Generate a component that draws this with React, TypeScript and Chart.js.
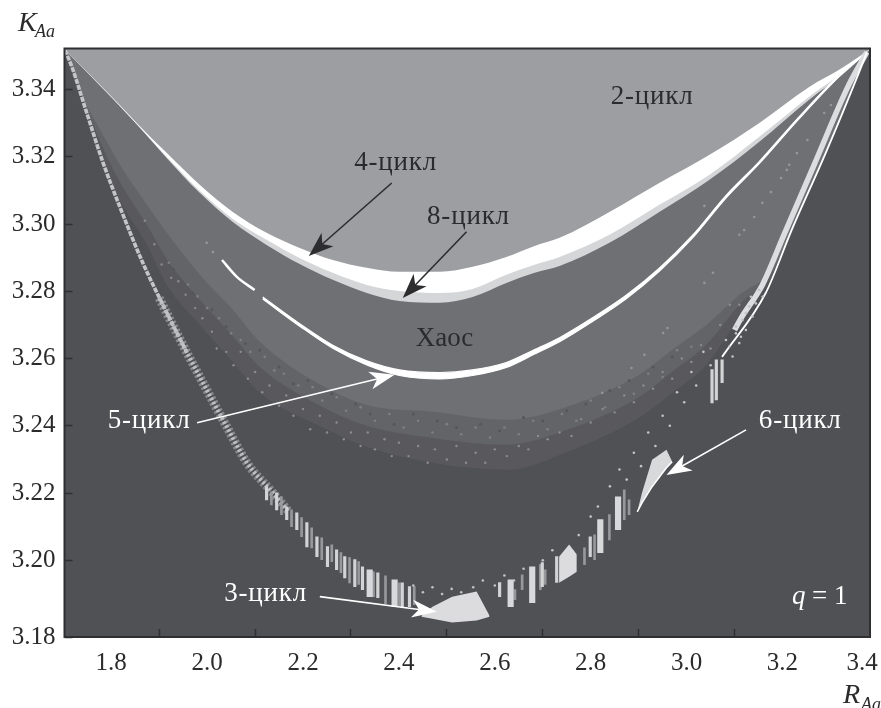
import React, { useEffect, useRef } from "react";
import { Chart, registerables } from "chart.js";

Chart.register(...registerables);

const X_MIN = 1.7025;
const X_MAX = 3.3825;
const Y_MIN = 3.1772;
const Y_MAX = 3.3522;
const X_TICKS = [1.8, 2.0, 2.2, 2.4, 2.6, 2.8, 3.0, 3.2, 3.366];
const X_TICK_LABELS = ["1.8", "2.0", "2.2", "2.4", "2.6", "2.8", "3.0", "3.2", "3.4"];
const Y_TICKS = [3.34, 3.32, 3.3, 3.28, 3.26, 3.24, 3.22, 3.2, Y_MIN];
const Y_TICK_LABELS = ["3.34", "3.32", "3.30", "3.28", "3.26", "3.24", "3.22", "3.20", "3.18"];

// Period-doubling boundaries
const bandX = [1.7025, 1.8035, 1.8535, 1.916, 1.985, 2.0535, 2.124, 2.193, 2.262, 2.333, 2.401, 2.485, 2.5535, 2.624, 2.683, 2.735, 2.839, 2.943, 3.047, 3.151, 3.255, 3.324, 3.3825];
const cycle2Edge = [3.352, 3.3375, 3.33, 3.3211, 3.3116, 3.3036, 3.2974, 3.2929, 3.2893, 3.287, 3.2858, 3.2858, 3.2873, 3.2902, 3.2935, 3.2959, 3.3036, 3.3122, 3.3205, 3.33, 3.3407, 3.3464, 3.352];
const cycle4Edge = [3.352, 3.3373, 3.3297, 3.3199, 3.3098, 3.3015, 3.2953, 3.2899, 3.2855, 3.2819, 3.2801, 3.2795, 3.2807, 3.2849, 3.2879, 3.2902, 3.2968, 3.3057, 3.3146, 3.3259, 3.3378, 3.3449, 3.352];
const cycle8Edge = [3.352, 3.3372, 3.3296, 3.3196, 3.3092, 3.3006, 3.2938, 3.2881, 3.2834, 3.2795, 3.2771, 3.2766, 3.2783, 3.2825, 3.2855, 3.2875, 3.2944, 3.3036, 3.3131, 3.3244, 3.3369, 3.3443, 3.352];

// Lower edge of chaos
const chaosX = [1.7025, 1.749, 1.783, 1.818, 1.8745, 1.916, 1.985, 2.0535, 2.11, 2.229, 2.333, 2.47, 2.624, 2.762, 2.901, 2.97, 3.041, 3.11, 3.178, 3.249, 3.318, 3.3825];
const chaosEdgeA = [3.352, 3.3354, 3.3265, 3.3176, 3.3057, 3.2974, 3.2849, 3.2745, 3.265, 3.2528, 3.2462, 3.2442, 3.2418, 3.2462, 3.2552, 3.2626, 3.27, 3.2789, 3.2864, 3.3078, 3.3306, 3.352];
const chaosEdgeB = [3.352, 3.3345, 3.3226, 3.3125, 3.2997, 3.2896, 3.2774, 3.2667, 3.2575, 3.2465, 3.24, 3.2364, 3.2344, 3.2394, 3.2486, 3.2561, 3.2641, 3.276, 3.2852, 3.3075, 3.3305, 3.352];
const chaosEdgeC = [3.352, 3.3339, 3.3191, 3.3072, 3.2938, 3.2819, 3.27, 3.259, 3.2498, 3.2403, 3.2338, 3.229, 3.2269, 3.2329, 3.2424, 3.2498, 3.2581, 3.2721, 3.284, 3.3072, 3.3303, 3.352];

// 5-cycle window: two short dashes at the left, then a band that swells at the bottom
const five1X = [2.031, 2.062, 2.099];
const five1Y = [3.2893, 3.2843, 3.2804];
const fiveBandX = [2.116, 2.193, 2.262, 2.333, 2.401, 2.485, 2.5535, 2.624, 2.683, 2.735, 2.803, 2.874, 2.943, 3.012, 3.082, 3.151, 3.234, 3.324, 3.376];
const fiveBandUp = [3.2783, 3.27036, 3.26395, 3.2593, 3.25663, 3.25585, 3.25663, 3.25884, 3.26265, 3.2662, 3.27203, 3.2788, 3.28685, 3.29659, 3.30846, 3.3185, 3.3318, 3.34514, 3.3512];
const fiveBandLo = [3.2777, 3.26964, 3.26305, 3.2581, 3.25497, 3.25395, 3.25497, 3.25736, 3.26135, 3.265, 3.27097, 3.2778, 3.28595, 3.29581, 3.30774, 3.3179, 3.3312, 3.34466, 3.351];

// Left bright branch and right bright branch
const leftBranchX = [1.7035, 1.718, 1.749, 1.783, 1.818, 1.866, 1.916, 1.958];
const leftBranchY = [3.3517, 3.3467, 3.333, 3.3182, 3.3051, 3.2884, 3.2736, 3.2617];
const leftWideX = [1.9, 1.93, 1.958, 1.999, 2.041, 2.083, 2.137, 2.17];
const leftWideY = [3.278, 3.2695, 3.2617, 3.2507, 3.2397, 3.229, 3.2201, 3.2145];
const rightLightX = [3.1, 3.114, 3.158, 3.203, 3.266, 3.338, 3.376];
const rightLightY = [3.2685, 3.2721, 3.2819, 3.2968, 3.3176, 3.3413, 3.3511];
const rightWhiteX = [3.074, 3.165, 3.219, 3.29, 3.359, 3.376];
const rightWhiteY = [3.2605, 3.2795, 3.2982, 3.3211, 3.3449, 3.3511];

// Periodic windows drawn as stripes: [x, low, high]
const thinStripes = [
  [2.124, 3.218, 3.2219], [2.145, 3.215, 3.2201], [2.166, 3.2121, 3.2159], [2.187, 3.2091, 3.2141],
  [2.208, 3.204, 3.2112], [2.229, 3.2011, 3.207], [2.251, 3.1981, 3.2041], [2.27, 3.1972, 3.2031],
  [2.287, 3.1948, 3.2011], [2.308, 3.1922, 3.2002], [2.324, 3.1913, 3.1981], [2.356, 3.1889, 3.1963],
  [2.407, 3.1859, 3.1933], [2.422, 3.1862, 3.1922], [2.61, 3.1892, 3.1934], [2.699, 3.1922, 3.1993],
  [2.729, 3.1934, 3.2011], [2.799, 3.2011, 3.207], [3.053, 3.2468, 3.2567], [3.062, 3.2477, 3.2596], [3.074, 3.2528, 3.2596],
];
const wideStripes = [
  [2.339, 3.1892, 3.1972], [2.391, 3.1862, 3.1942], [2.633, 3.1862, 3.1942], [2.678, 3.1874, 3.1981],
  [2.82, 3.2023, 3.2121], [2.857, 3.2091, 3.2189],
];
const dimStripes = [
  [2.134, 3.2165, 3.2204], [2.155, 3.2136, 3.2189], [2.176, 3.21, 3.215], [2.197, 3.207, 3.2127],
  [2.218, 3.2037, 3.2097], [2.239, 3.2002, 3.2067], [2.26, 3.1996, 3.2046], [2.279, 3.1963, 3.2023],
  [2.297, 3.1933, 3.2008], [2.316, 3.1928, 3.1996], [2.347, 3.1892, 3.1966], [2.372, 3.1871, 3.1954],
  [2.401, 3.1865, 3.1933], [2.432, 3.1868, 3.1922], [2.642, 3.1883, 3.1913], [2.657, 3.1913, 3.1957],
  [2.695, 3.1913, 3.1987], [2.705, 3.1928, 3.1972], [2.787, 3.1987, 3.2037], [2.808, 3.2002, 3.2076],
  [2.839, 3.2061, 3.2136], [2.87, 3.2121, 3.221], [2.88, 3.2136, 3.218],
];

// Larger windows: x, upper, lower
const win3X = [2.447, 2.47, 2.511, 2.562, 2.589];
const win3Up = [3.1835, 3.1862, 3.1892, 3.1907, 3.1835];
const win3Lo = [3.1832, 3.1826, 3.1815, 3.1821, 3.1832];
const winMidX = [2.734, 2.755, 2.771];
const winMidUp = [3.2011, 3.2047, 3.2017];
const winMidLo = [3.1933, 3.1951, 3.1966];
const win6X = [2.897, 2.907, 2.928, 2.958, 2.97];
const win6Up = [3.2144, 3.2201, 3.2299, 3.2329, 3.2293];
const win6Lo = [3.2144, 3.2171, 3.2219, 3.2275, 3.2293];

// Scattered points
const speckEdge: [number, number][] = [
  [1.87, 3.301], [1.89, 3.294], [1.905, 3.288], [1.925, 3.284], [1.94, 3.283], [1.955, 3.279], [1.975, 3.275], [1.99, 3.272],
  [2.01, 3.268], [2.02, 3.263], [2.04, 3.262], [2.055, 3.258], [2.07, 3.262], [2.085, 3.254], [2.1, 3.256], [2.115, 3.25],
  [2.13, 3.252], [2.15, 3.246], [2.165, 3.249], [2.18, 3.243], [2.2, 3.245], [2.215, 3.239], [2.235, 3.243], [2.25, 3.238],
  [2.27, 3.241], [2.285, 3.236], [2.3, 3.238], [2.32, 3.234], [2.335, 3.238], [2.35, 3.233], [2.37, 3.236], [2.385, 3.231],
  [2.4, 3.235], [2.42, 3.231], [2.44, 3.234], [2.46, 3.229], [2.475, 3.233], [2.5, 3.23], [2.52, 3.234], [2.54, 3.229],
  [2.56, 3.232], [2.58, 3.229], [2.6, 3.233], [2.625, 3.231], [2.65, 3.234], [2.67, 3.233], [2.69, 3.237], [2.71, 3.236],
  [2.735, 3.238], [2.76, 3.237], [2.78, 3.242], [2.8, 3.241], [2.825, 3.245], [2.85, 3.244], [2.87, 3.249], [2.89, 3.247],
  [2.91, 3.252], [2.93, 3.251], [2.95, 3.256], [2.97, 3.254], [2.99, 3.26], [3.01, 3.259], [3.03, 3.264], [3.05, 3.263],
  [3.07, 3.27], [3.09, 3.276], [3.11, 3.276],
];
const speckUpper: [number, number][] = [
  [1.92, 3.2885], [1.96, 3.282], [1.98, 3.2785], [2.0, 3.275], [2.025, 3.272], [2.05, 3.2675], [2.07, 3.2655], [2.09, 3.262],
  [2.12, 3.2605], [2.14, 3.2565], [2.16, 3.2555], [2.19, 3.252], [2.22, 3.2515], [2.24, 3.2475], [2.27, 3.2485], [2.29, 3.2445],
  [2.32, 3.2455], [2.35, 3.2415], [2.38, 3.2435], [2.41, 3.2395], [2.44, 3.2415], [2.47, 3.238], [2.5, 3.2405], [2.53, 3.2375],
  [2.56, 3.2395], [2.59, 3.2365], [2.62, 3.2395], [2.65, 3.2375], [2.68, 3.2415], [2.71, 3.239], [2.74, 3.2435], [2.77, 3.2415],
  [2.8, 3.2475], [2.83, 3.2455], [2.86, 3.2515], [2.89, 3.2495], [2.92, 3.2555], [2.95, 3.2545], [2.98, 3.2625], [3.01, 3.2635],
];
const speckDark: [number, number][] = [
  [1.93, 3.2865], [1.97, 3.2795], [2.01, 3.2745], [2.04, 3.2695], [2.08, 3.2645], [2.11, 3.2625], [2.15, 3.2575], [2.18, 3.2525],
  [2.21, 3.2535], [2.26, 3.2495], [2.31, 3.2465], [2.34, 3.2435], [2.39, 3.2405], [2.43, 3.2435], [2.48, 3.2415], [2.52, 3.2395],
  [2.57, 3.2405], [2.61, 3.2385], [2.66, 3.2425], [2.7, 3.2415], [2.75, 3.2445], [2.79, 3.2465], [2.84, 3.2505], [2.88, 3.2535],
  [2.93, 3.2575], [2.97, 3.2605],
];
const speckIsolated: [number, number][] = [
  [3.037, 3.3054], [3.055, 3.2855], [3.037, 3.2825], [2.96, 3.2691], [2.951, 3.2676], [2.912, 3.2611], [3.11, 3.2968], [3.12, 3.2982],
  [3.141, 3.3021], [3.158, 3.3063], [3.176, 3.3095], [3.197, 3.3137], [3.209, 3.3161], [3.214, 3.3176], [3.23, 3.3211], [3.252, 3.325],
  [3.287, 3.333], [3.301, 3.3354], [1.999, 3.2944], [2.012, 3.2917], [2.885, 3.2572], [2.824, 3.2498],
];
const speckBand: [number, number][] = [
  [2.43, 3.1925], [2.45, 3.1905], [2.47, 3.192], [2.49, 3.19], [2.51, 3.1915], [2.53, 3.1905], [2.555, 3.192], [2.575, 3.194],
  [2.6, 3.1925], [2.62, 3.1955], [2.64, 3.194], [2.66, 3.1975], [2.7, 3.2], [2.72, 3.203], [2.775, 3.2075], [2.8, 3.213],
  [2.815, 3.216], [2.84, 3.222], [2.86, 3.227], [2.875, 3.224], [2.89, 3.232], [2.905, 3.228], [2.92, 3.238], [2.935, 3.234],
  [2.95, 3.243], [2.965, 3.24], [2.98, 3.25], [2.995, 3.247], [3.01, 3.256], [3.02, 3.252], [3.035, 3.262], [3.05, 3.258],
  [3.1515, 3.2804], [3.1445, 3.2764], [3.1306, 3.2755], [3.1376, 3.2725], [3.1167, 3.2715], [3.1237, 3.2685], [3.1029, 3.2675], [3.1098, 3.2646],
  [3.089, 3.2636], [3.0959, 3.2606], [3.1341, 3.2784], [3.1584, 3.2784], [3.1237, 3.2735], [3.1029, 3.2695], [3.1133, 3.2665], [3.082, 3.2655],
];

// Annotations
const labelTexts = ["2-цикл", "4-цикл", "8-цикл", "Хаос", "5-цикл", "6-цикл", "3-цикл"];
const labelX = [2.928, 2.393, 2.545, 2.495, 1.879, 3.237, 2.122];
const labelY = [3.3357, 3.3161, 3.3, 3.2638, 3.2394, 3.2394, 3.188];
const labelDark = [true, true, true, true, false, false, false];
const arrowFromX = [2.385, 2.541, 1.979, 2.235, 3.124];
const arrowFromY = [3.3122, 3.2977, 3.2409, 3.1892, 3.2388];
const arrowToX = [2.212, 2.408, 2.391, 2.479, 2.958];
const arrowToY = [3.2905, 3.278, 3.2552, 3.1847, 3.2254];
const arrowDark = [true, true, false, false, false];

const SERIF = "'Liberation Serif', serif";
const DARK = "#2b2b2d";

const pts = (xs: number[], ys: number[]) => xs.map((x, i) => ({ x, y: ys[i] }));
const pairs = (list: [number, number][]) => list.map(([x, y]) => ({ x, y }));
const stripes = (list: number[][]) => list.map(([x, lo, hi]) => ({ x, y: [lo, hi] }));

const area = (xs: number[], ys: number[], color: string, order: number) => ({
  type: "line", data: pts(xs, ys), fill: "end", backgroundColor: color, borderWidth: 0, pointRadius: 0,
  cubicInterpolationMode: "monotone", order,
});
const stroke = (xs: number[], ys: number[], color: string, width: number, order: number, dash: number[] = []) => ({
  type: "line", data: pts(xs, ys), fill: false, borderColor: color, borderWidth: width, borderDash: dash, pointRadius: 0,
  cubicInterpolationMode: "monotone", order,
});
const dots = (data: { x: number; y: number }[], color: string, radius: number, order: number) => ({
  type: "line", data, showLine: false, pointRadius: radius, pointBorderWidth: 0, pointBackgroundColor: color, order,
});
const bars = (list: number[][], color: string, thickness: number, order: number) => ({
  type: "bar", data: stripes(list), backgroundColor: color, barThickness: thickness, grouped: false, order,
});

const annotationPlugin = {
  id: "annotations",
  afterDatasetsDraw(chart: any) {
    const { ctx, scales } = chart;
    const px = (v: number) => scales.x.getPixelForValue(v);
    const py = (v: number) => scales.y.getPixelForValue(v);
    ctx.save();
    arrowFromX.forEach((_, i) => {
      const x0 = px(arrowFromX[i]), y0 = py(arrowFromY[i]), x1 = px(arrowToX[i]), y1 = py(arrowToY[i]);
      const a = Math.atan2(y1 - y0, x1 - x0);
      const color = arrowDark[i] ? "#2d2d2f" : "#ffffff";
      ctx.strokeStyle = color;
      ctx.fillStyle = color;
      ctx.lineWidth = 1.6;
      ctx.beginPath();
      ctx.moveTo(x0, y0);
      ctx.lineTo(x1 - 14 * Math.cos(a), y1 - 14 * Math.sin(a));
      ctx.stroke();
      const L = 25, W = 9, N = 18;
      ctx.beginPath();
      ctx.moveTo(x1, y1);
      ctx.lineTo(x1 - L * Math.cos(a) - W * Math.sin(a), y1 - L * Math.sin(a) + W * Math.cos(a));
      ctx.lineTo(x1 - N * Math.cos(a), y1 - N * Math.sin(a));
      ctx.lineTo(x1 - L * Math.cos(a) + W * Math.sin(a), y1 - L * Math.sin(a) - W * Math.cos(a));
      ctx.closePath();
      ctx.fill();
    });
    ctx.textBaseline = "alphabetic";
    ctx.textAlign = "center";
    ctx.font = `27px ${SERIF}`;
    labelTexts.forEach((t, i) => {
      ctx.fillStyle = labelDark[i] ? DARK : "#ffffff";
      ctx.letterSpacing = t === "Хаос" ? "0px" : "0.8px";
      ctx.fillText(t, px(labelX[i]), py(labelY[i]));
    });
    ctx.letterSpacing = "0px";
    ctx.textAlign = "left";
    ctx.fillStyle = "#ffffff";
    const qx = px(3.22), qy = py(3.1871);
    ctx.font = `italic 27px ${SERIF}`;
    ctx.fillText("q", qx, qy);
    ctx.font = `27px ${SERIF}`;
    ctx.fillText("= 1", qx + 20, qy);
    ctx.restore();
  },
  afterDraw(chart: any) {
    const { ctx, chartArea: a } = chart;
    ctx.save();
    ctx.strokeStyle = "#2f2f31";
    ctx.lineWidth = 2;
    ctx.strokeRect(a.left, a.top, a.right - a.left, a.bottom - a.top);
    ctx.fillStyle = DARK;
    ctx.textAlign = "left";
    ctx.textBaseline = "alphabetic";
    ctx.font = `italic 28px ${SERIF}`;
    ctx.fillText("K", 18, 31);
    ctx.fillText("R", a.right - 27, 703);
    ctx.font = `italic 18px ${SERIF}`;
    ctx.fillText("Aa", 35, 37);
    ctx.fillText("Aa", a.right - 9, 710);
    ctx.restore();
  },
};

export default function App() {
  const ref = useRef<HTMLCanvasElement>(null);
  useEffect(() => {
    document.body.style.margin = "0";
    const chart = new Chart(ref.current as any, {
      type: "line",
      data: {
        datasets: [
          { type: "line", data: pts([X_MIN, X_MAX], [Y_MAX, Y_MAX]), fill: "start", backgroundColor: "#505154", borderWidth: 0, pointRadius: 0, order: 40 },
          area(chaosX, chaosEdgeC, "#59595d", 39),
          area(chaosX, chaosEdgeB, "#636468", 38),
          area(chaosX, chaosEdgeA, "#6f7074", 37),
          dots(pairs(speckDark), "#55565a", 1.5, 36),
          dots(pairs(speckUpper), "#7f8083", 1.3, 35),
          dots(pairs(speckEdge), "#8b8c8f", 1.2, 34),
          dots(pairs(speckIsolated), "#96979a", 1.3, 33),
          area(bandX, cycle8Edge, "#d5d6d8", 32),
          area(bandX, cycle4Edge, "#ffffff", 31),
          area(bandX, cycle2Edge, "#9d9ea2", 30),
          stroke(five1X, five1Y, "#ffffff", 2.5, 29),
          { type: "line", data: pts(fiveBandX, fiveBandUp), fill: { target: "+1" }, backgroundColor: "#ffffff", borderColor: "#ffffff", borderWidth: 1.2, pointRadius: 0, cubicInterpolationMode: "monotone", order: 28 },
          { type: "line", data: pts(fiveBandX, fiveBandLo), fill: false, borderColor: "#ffffff", borderWidth: 1.2, pointRadius: 0, cubicInterpolationMode: "monotone", order: 27 },
          stroke(leftWideX, leftWideY, "#88898c", 9, 23, [2.5, 2]),
          stroke(leftBranchX, leftBranchY, "#c4c5c7", 3.6, 22, [5, 1.2]),
          stroke(leftWideX, leftWideY, "#bcbdbf", 4, 21, [2.5, 2]),
          stroke(rightLightX, rightLightY, "#dcdddf", 5.5, 20),
          stroke(rightWhiteX, rightWhiteY, "#ffffff", 1.8, 19),
          bars(dimStripes, "#97989b", 2, 18),
          bars(thinStripes, "#d2d3d5", 2.5, 17),
          bars(wideStripes, "#d8d9da", 5.5, 16),
          dots(pairs(speckBand), "#c2c3c5", 1.3, 15),
          { type: "line", data: pts(win3X, win3Up), fill: { target: "+1" }, backgroundColor: "#dcdcde", borderWidth: 0, pointRadius: 0, order: 12 },
          { type: "line", data: pts(win3X, win3Lo), fill: false, borderWidth: 0, pointRadius: 0, order: 11 },
          { type: "line", data: pts(winMidX, winMidUp), fill: { target: "+1" }, backgroundColor: "#dcdcde", borderWidth: 0, pointRadius: 0, order: 10 },
          { type: "line", data: pts(winMidX, winMidLo), fill: false, borderWidth: 0, pointRadius: 0, order: 9 },
          { type: "line", data: pts(win6X, win6Up), fill: { target: "+1" }, backgroundColor: "#d8d9da", borderWidth: 0, pointRadius: 0, order: 8 },
          { type: "line", data: pts(win6X, win6Lo), fill: false, borderColor: "#ffffff", borderWidth: 1.5, pointRadius: 0, order: 7 },
        ] as any,
      },
      options: {
        animation: false,
        responsive: false,
        events: [],
        layout: { padding: { top: 48.5, right: 11, left: 0, bottom: 0 } },
        plugins: { legend: { display: false }, tooltip: { enabled: false } },
        scales: {
          x: {
            type: "linear", min: X_MIN, max: X_MAX, offset: false,
            afterBuildTicks: (s: any) => { s.ticks = X_TICKS.map((value) => ({ value })); },
            afterFit: (s: any) => { s.height = 71; s.paddingLeft = 0; s.paddingRight = 0; },
            grid: {
              z: 1, drawOnChartArea: false, drawTicks: true, tickLength: -8, tickWidth: 1.5,
              tickColor: (c: any) => (c.index === X_TICKS.length - 1 ? "rgba(0,0,0,0)" : "#2f2f31"),
            },
            border: { display: false },
            ticks: {
              autoSkip: false, maxRotation: 0, padding: 19, color: DARK,
              font: { family: SERIF, size: 25 },
              callback: (_: any, i: number) => X_TICK_LABELS[i],
            },
          },
          y: {
            type: "linear", min: Y_MIN, max: Y_MAX,
            afterBuildTicks: (s: any) => { s.ticks = Y_TICKS.map((value) => ({ value })); },
            afterFit: (s: any) => { s.width = 64.5; s.paddingTop = 0; s.paddingBottom = 0; },
            grid: { z: 1, drawOnChartArea: false, drawTicks: true, tickLength: -8, tickWidth: 1.5, tickColor: "#2f2f31" },
            border: { display: false },
            ticks: {
              autoSkip: false, padding: 17, color: DARK,
              font: { family: SERIF, size: 25 },
              callback: (_: any, i: number) => Y_TICK_LABELS[i],
            },
          },
        },
      },
      plugins: [annotationPlugin],
    } as any);
    return () => chart.destroy();
  }, []);
  return <canvas ref={ref} width={881} height={708} style={{ display: "block" }} />;
}
